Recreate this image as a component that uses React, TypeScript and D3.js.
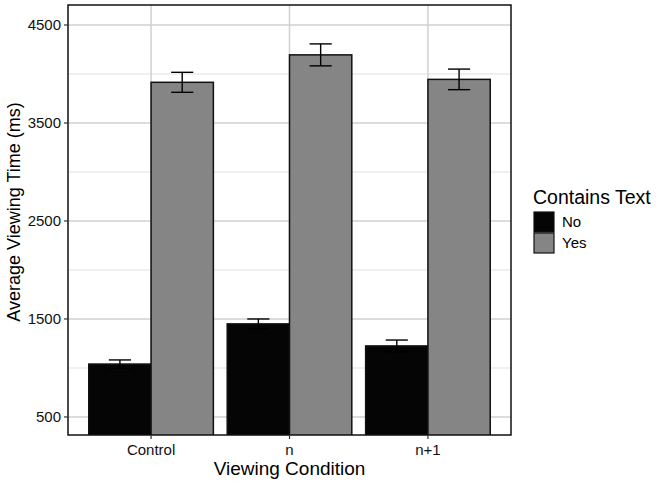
import React, {useEffect, useRef} from "react";
import * as d3 from "d3";

const WIDTH = 660;
const HEIGHT = 487;

// Average viewing time per condition, split by whether the image contains text
const conditions = ["Control", "n", "n+1"];
const groups = ["No", "Yes"];
const meansNo = [1040, 1450, 1225];
const meansYes = [3915, 4195, 3945];
const errNo = [42, 50, 60];
const errYes = [102, 112, 105];
const yTicks = [500, 1500, 2500, 3500, 4500];
const yMinor = [1000, 2000, 3000, 4000];
const fills: Record<string, string> = {No: "#050505", Yes: "#858585"};

const PANEL = {left: 68, top: 5, right: 511, bottom: 435};

export default function App() {
    const ref = useRef<SVGSVGElement>(null);

    useEffect(() => {
        const svg = d3.select(ref.current);
        svg.selectAll("*").remove();

        const rows = conditions.flatMap((c, i) => [
            {cond: c, group: "No", mean: meansNo[i], err: errNo[i]},
            {cond: c, group: "Yes", mean: meansYes[i], err: errYes[i]},
        ]);

        // ggplot-style discrete expansion: 0.6 units each side
        const unit = (PANEL.right - PANEL.left) / (conditions.length - 1 + 1.2);
        const xCenter = d3.scalePoint<string>()
            .domain(conditions)
            .range([PANEL.left + 0.6 * unit, PANEL.right - 0.6 * unit]);
        const xInner = d3.scaleBand<string>()
            .domain(groups)
            .range([-0.45 * unit, 0.45 * unit])
            .padding(0);

        const y = d3.scaleLinear()
            .domain([316, 4704])
            .range([PANEL.bottom, PANEL.top]);

        const font = "'Liberation Sans', Arial, sans-serif";

        const clipId = "panel-clip";
        svg.append("clipPath").attr("id", clipId)
            .append("rect")
            .attr("x", PANEL.left).attr("y", PANEL.top)
            .attr("width", PANEL.right - PANEL.left)
            .attr("height", PANEL.bottom - PANEL.top);

        const grid = svg.append("g");
        grid.selectAll("line.minor").data(yMinor).enter().append("line")
            .attr("x1", PANEL.left).attr("x2", PANEL.right)
            .attr("y1", d => y(d)).attr("y2", d => y(d))
            .attr("stroke", "#e0e0e0").attr("stroke-width", 1);
        grid.selectAll("line.major").data(yTicks).enter().append("line")
            .attr("x1", PANEL.left).attr("x2", PANEL.right)
            .attr("y1", d => y(d)).attr("y2", d => y(d))
            .attr("stroke", "#d0d0d0").attr("stroke-width", 1.5);
        grid.selectAll("line.vert").data(conditions).enter().append("line")
            .attr("x1", d => xCenter(d)!).attr("x2", d => xCenter(d)!)
            .attr("y1", PANEL.top).attr("y2", PANEL.bottom)
            .attr("stroke", "#d0d0d0").attr("stroke-width", 1.5);

        const bars = svg.append("g").attr("clip-path", `url(#${clipId})`);
        bars.selectAll("rect").data(rows).enter().append("rect")
            .attr("x", d => xCenter(d.cond)! + xInner(d.group)!)
            .attr("width", xInner.bandwidth())
            .attr("y", d => y(d.mean))
            .attr("height", d => PANEL.bottom + 5 - y(d.mean))
            .attr("fill", d => fills[d.group])
            .attr("stroke", "#111")
            .attr("stroke-width", 1.5);

        const eb = svg.append("g");
        const capW = 0.08 * unit;
        rows.forEach(d => {
            const cx = xCenter(d.cond)! + xInner(d.group)! + xInner.bandwidth() / 2;
            const g = eb.append("g").attr("stroke", "#000").attr("stroke-width", 1.4);
            g.append("line").attr("x1", cx).attr("x2", cx)
                .attr("y1", y(d.mean - d.err)).attr("y2", y(d.mean + d.err));
            g.append("line").attr("x1", cx - capW).attr("x2", cx + capW)
                .attr("y1", y(d.mean - d.err)).attr("y2", y(d.mean - d.err));
            g.append("line").attr("x1", cx - capW).attr("x2", cx + capW)
                .attr("y1", y(d.mean + d.err)).attr("y2", y(d.mean + d.err));
        });

        // panel border
        svg.append("rect")
            .attr("x", PANEL.left).attr("y", PANEL.top)
            .attr("width", PANEL.right - PANEL.left)
            .attr("height", PANEL.bottom - PANEL.top)
            .attr("fill", "none").attr("stroke", "#111").attr("stroke-width", 1.5);

        // y axis ticks and labels
        const yAxis = svg.append("g");
        yTicks.forEach(t => {
            yAxis.append("line")
                .attr("x1", PANEL.left - 4).attr("x2", PANEL.left)
                .attr("y1", y(t)).attr("y2", y(t))
                .attr("stroke", "#333").attr("stroke-width", 1.2);
            yAxis.append("text")
                .attr("x", PANEL.left - 7).attr("y", y(t))
                .attr("dy", "0.36em")
                .attr("text-anchor", "end")
                .attr("font-family", font).attr("font-size", 15)
                .attr("fill", "#111")
                .text(t);
        });

        // x axis ticks and labels
        const xAxis = svg.append("g");
        conditions.forEach(c => {
            const cx = xCenter(c)!;
            xAxis.append("line")
                .attr("x1", cx).attr("x2", cx)
                .attr("y1", PANEL.bottom).attr("y2", PANEL.bottom + 4)
                .attr("stroke", "#333").attr("stroke-width", 1.2);
            xAxis.append("text")
                .attr("x", cx).attr("y", PANEL.bottom + 20)
                .attr("text-anchor", "middle")
                .attr("font-family", font).attr("font-size", 15)
                .attr("fill", "#111")
                .text(c);
        });

        svg.append("text")
            .attr("x", (PANEL.left + PANEL.right) / 2).attr("y", 475)
            .attr("text-anchor", "middle")
            .attr("font-family", font).attr("font-size", 19)
            .attr("fill", "#000")
            .text("Viewing Condition");

        svg.append("text")
            .attr("transform", `translate(20,212) rotate(-90)`)
            .attr("text-anchor", "middle")
            .attr("font-family", font).attr("font-size", 18)
            .attr("fill", "#000")
            .text("Average Viewing Time (ms)");

        // legend
        const legend = svg.append("g").attr("transform", "translate(534,0)");
        legend.append("text")
            .attr("x", -1).attr("y", 204)
            .attr("font-family", font).attr("font-size", 19.5)
            .attr("fill", "#000")
            .text("Contains Text");
        groups.forEach((gname, i) => {
            const top = 212 + i * 21;
            legend.append("rect")
                .attr("x", 0).attr("y", top)
                .attr("width", 20).attr("height", 20)
                .attr("fill", fills[gname])
                .attr("stroke", "#111").attr("stroke-width", 1.2);
            legend.append("text")
                .attr("x", 28).attr("y", top + 10)
                .attr("dy", "0.36em")
                .attr("font-family", font).attr("font-size", 15)
                .attr("fill", "#000")
                .text(gname);
        });
    }, []);

    return (
        <svg ref={ref} width={WIDTH} height={HEIGHT}
             style={{position: "absolute", left: 0, top: 0, background: "#fff"}}/>
    );
}
